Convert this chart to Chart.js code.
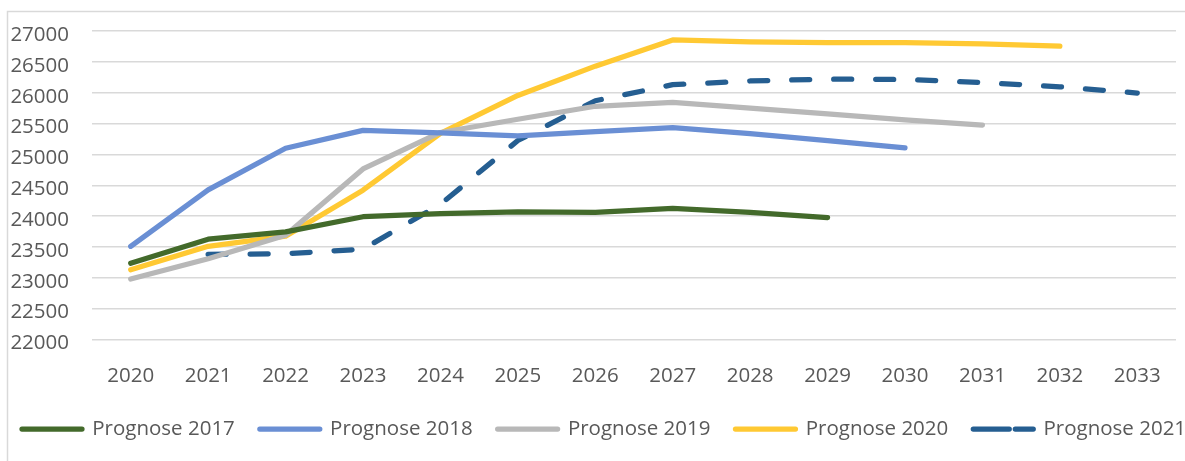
<!DOCTYPE html>
<html>
<head>
<meta charset="utf-8">
<script src="https://cdn.jsdelivr.net/npm/chart.js@4/dist/chart.umd.min.js"></script>
<style>
  html, body { margin: 0; padding: 0; background: #fff; }
  #wrap { width: 1185px; height: 461px; position: relative; }
</style>
</head>
<body>
<div id="wrap"><canvas id="c" width="1185" height="461"></canvas></div>
<script>
const categories = ['2020','2021','2022','2023','2024','2025','2026','2027','2028','2029','2030','2031','2032','2033'];
const prognose2017 = [23235, 23625, 23745, 23990, 24040, 24070, 24060, 24125, 24060, 23975, null, null, null, null];
const prognose2018 = [23510, 24425, 25100, 25390, 25350, 25300, 25370, 25435, 25335, 25225, 25105, null, null, null];
const prognose2019 = [22980, 23310, 23690, 24765, 25355, 25570, 25780, 25845, 25750, 25655, 25560, 25475, null, null];
const prognose2020 = [23130, 23510, 23675, 24420, 25340, 25955, 26430, 26855, 26825, 26810, 26810, 26790, 26755, null];
const prognose2021 = [null, 23380, 23390, 23465, 24190, 25225, 25870, 26130, 26190, 26220, 26215, 26165, 26095, 25995];
const seriesNames = ['Prognose 2017','Prognose 2018','Prognose 2019','Prognose 2020','Prognose 2021'];
const yMin = 22000, yMax = 27000, yStep = 500;

const FONT = '"Open Sans", "DejaVu Sans", sans-serif';
const TEXT = '#595959';

const borderPlugin = {
  id: 'outerBorder',
  beforeDraw(chart) {
    const ctx = chart.ctx;
    ctx.save();
    ctx.strokeStyle = '#D9D9D9';
    ctx.lineWidth = 1.5;
    ctx.strokeRect(7.5, 11.5, 1400, 600);
    ctx.restore();
  }
};

function ds(label, data, color, dash) {
  return {
    label, data,
    borderColor: color,
    backgroundColor: color,
    borderWidth: 5.25,
    borderDash: dash || [],
    borderCapStyle: 'round',
    borderJoinStyle: 'round',
    pointRadius: 0,
    pointHoverRadius: 0,
    tension: 0,
    spanGaps: false,
    fill: false,
    yAxisID: 'y'
  };
}

new Chart(document.getElementById('c'), {
  type: 'line',
  data: {
    labels: categories,
    datasets: [
      ds(seriesNames[0], prognose2017, '#436A2B'),
      ds(seriesNames[1], prognose2018, '#6A8FD4'),
      ds(seriesNames[2], prognose2019, '#B8B8B8'),
      ds(seriesNames[3], prognose2020, '#FFC933'),
      ds(seriesNames[4], prognose2021, '#255E91', [18, 24])
    ]
  },
  options: {
    responsive: false,
    animation: false,
    devicePixelRatio: 1,
    layout: { padding: { left: -3, right: -40, top: 31, bottom: 11.75 } },
    plugins: {
      tooltip: { enabled: false },
      legend: {
        position: 'bottom',
        align: 'start',
        labels: {
          boxWidth: 60,
          boxHeight: 0,
          padding: 25,
          color: TEXT,
          font: { family: FONT, size: 20.5 }
        }
      }
    },
    scales: {
      x: {
        offset: true,
        grid: { display: false, drawTicks: false },
        border: { display: false },
        ticks: { color: TEXT, font: { family: FONT, size: 20.5 }, padding: 24, maxRotation: 0, autoSkip: false },
        afterFit: (s) => { s.height = 54.25; s.paddingLeft = 0; s.paddingRight = 0; }
      },
      y: {
        min: yMin, max: yMax,
        grid: { color: '#D9D9D9', lineWidth: 1.5, drawTicks: false },
        border: { display: false },
        ticks: { stepSize: yStep, autoSkip: false, color: TEXT, font: { family: FONT, size: 20.5 }, padding: 23,
                 labelOffset: 4, callback: (v) => String(v) },
        afterFit: (s) => { s.width = 95; s.paddingTop = 0; s.paddingBottom = 0; }
      },
      yRight: {
        position: 'right',
        display: true,
        grid: { display: false, drawTicks: false },
        border: { display: false },
        ticks: { display: false },
        afterFit: (s) => { s.width = 49; s.paddingTop = 0; s.paddingBottom = 0; }
      }
    }
  },
  plugins: [borderPlugin]
});
</script>
</body>
</html>
